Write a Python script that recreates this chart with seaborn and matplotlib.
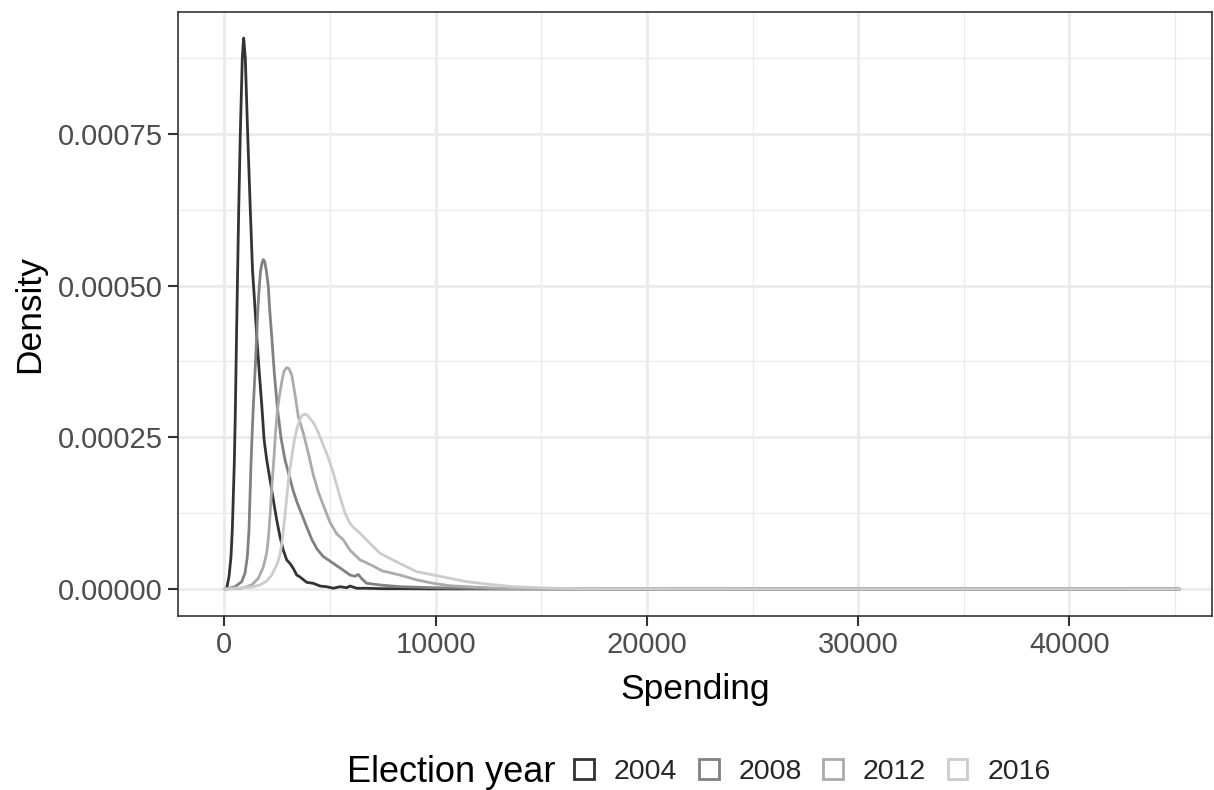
import matplotlib
matplotlib.use("Agg")
import matplotlib.pyplot as plt
from matplotlib.patches import Patch
import numpy as np
import pandas as pd
import seaborn as sns

# ---------------- data ----------------
years = ["2004", "2008", "2012", "2016"]
line_colors = ["#333333", "#818181", "#ababab", "#cccccc"]

spend_2004 = [30, 114, 222, 317, 379, 426, 473, 516, 587, 682, 757, 852, 895, 918,
              994, 1107, 1231, 1335, 1429, 1548, 1657, 1775, 1884, 2007, 2163, 2319,
              2480, 2637, 2792, 2953, 3110, 3266, 3427, 3583, 3900, 4212, 4529, 4847,
              5159, 5476, 5793, 5950, 6266, 6740, 7511, 8316, 9878, 20000, 45200]
dens_2004 = [0, 1.2e-6, 2.03e-5, 5.33e-5, 9.73e-5, 1.52e-4, 2.07e-4, 2.79e-4, 4.35e-4,
             6.25e-4, 7.5e-4, 8.75e-4, 8.98e-4, 9.08e-4,
             8.75e-4, 7.5e-4, 6.25e-4, 5.26e-4, 4.76e-4, 4.10e-4, 3.56e-4, 3.02e-4,
             2.46e-4, 2.13e-4, 1.80e-4, 1.47e-4, 1.14e-4, 8.6e-5, 6.4e-5, 4.8e-5, 4.2e-5,
             3.4e-5, 2.3e-5, 1.98e-5, 1.1e-5, 9.4e-6, 4.9e-6, 3.8e-6, 1.2e-6, 3.8e-6,
             2.1e-6, 4.9e-6, 1.2e-6, 1.2e-6, 5e-7, 5e-7, 2e-7, 1e-7, 0]

spend_2008 = [30, 114, 506, 824, 980, 1089, 1169, 1216, 1264, 1325, 1373, 1453, 1524,
              1586, 1657, 1713, 1784, 1846, 1917, 1997, 2083, 2139, 2239, 2367, 2508,
              2684, 2873, 3062, 3252, 3441, 3678, 3914, 4151, 4387, 4671, 5002, 5334,
              5632, 5950, 6187, 6342, 6518, 6740, 7370, 8316, 9892, 11473, 13054,
              20000, 45200]
dens_2008 = [0, 3e-7, 3.8e-6, 1.2e-5, 2.59e-5, 5.32e-5, 9.73e-5, 1.52e-4, 2.07e-4,
             2.62e-4, 3.01e-4, 3.56e-4, 4.10e-4, 4.60e-4, 4.99e-4, 5.23e-4, 5.37e-4,
             5.43e-4, 5.39e-4, 5.23e-4, 4.99e-4, 4.65e-4, 4.19e-4, 3.56e-4, 3.0e-4,
             2.49e-4, 2.13e-4, 1.88e-4, 1.63e-4, 1.43e-4, 1.22e-4, 1.01e-4, 8.1e-5,
             6.6e-5, 5.4e-5, 4.6e-5, 3.8e-5, 3.1e-5, 2.3e-5, 2.1e-5, 2.4e-5, 1.65e-5,
             9.4e-6, 6.6e-6, 3.8e-6, 2.1e-6, 1.2e-6, 5e-7, 1e-7, 0]

spend_2012 = [30, 270, 824, 1297, 1609, 1846, 2007, 2101, 2182, 2253, 2343, 2433, 2518,
              2603, 2717, 2826, 2953, 3062, 3190, 3346, 3502, 3739, 3976, 4212, 4449,
              4686, 5002, 5320, 5632, 5950, 6187, 6423, 6740, 7038, 7464, 8316, 9106,
              9892, 10682, 11473, 13054, 13839, 20000, 45200]
dens_2012 = [0, 5e-7, 1.2e-6, 6.6e-6, 1.76e-5, 3.63e-5, 5.93e-5, 8.9e-5, 1.30e-4,
             1.71e-4, 2.13e-4, 2.62e-4, 2.95e-4, 3.17e-4, 3.41e-4, 3.59e-4, 3.65e-4,
             3.63e-4, 3.53e-4, 3.21e-4, 2.84e-4, 2.57e-4, 2.24e-4, 1.88e-4, 1.60e-4,
             1.38e-4, 1.10e-4, 9.1e-5, 8.1e-5, 6.4e-5, 5.6e-5, 4.8e-5, 4.3e-5, 3.8e-5,
             3.0e-5, 2.3e-5, 1.5e-5, 9.4e-6, 5.4e-6, 3.8e-6, 1.2e-6, 4e-7, 2e-7, 0]

spend_2016 = [30, 426, 1216, 1690, 2007, 2243, 2480, 2636, 2745, 2849, 2944, 3039, 3133,
              3228, 3323, 3441, 3583, 3678, 3796, 3914, 4056, 4212, 4373, 4529, 4686,
              4847, 5003, 5159, 5320, 5476, 5713, 5950, 6186, 6423, 6896, 7370, 7686,
              8316, 9106, 9892, 10682, 11473, 12419, 13678, 15259, 16835, 18397, 25000,
              45200]
dens_2016 = [0, 1.2e-6, 2.8e-6, 6.6e-6, 1.32e-5, 2.31e-5, 3.96e-5, 5.6e-5, 8.1e-5,
             1.14e-4, 1.47e-4, 1.80e-4, 2.04e-4, 2.26e-4, 2.46e-4, 2.65e-4, 2.80e-4,
             2.86e-4, 2.88e-4, 2.87e-4, 2.81e-4, 2.74e-4, 2.64e-4, 2.51e-4, 2.37e-4,
             2.23e-4, 2.08e-4, 1.91e-4, 1.71e-4, 1.52e-4, 1.25e-4, 1.08e-4, 9.9e-5,
             9.2e-5, 7.5e-5, 5.9e-5, 5.3e-5, 4.2e-5, 2.85e-5, 2.31e-5, 1.76e-5, 1.2e-5,
             8.2e-6, 3.8e-6, 1.6e-6, 5e-7, 5e-7, 2e-7, 0]

x_ticks = [0, 10000, 20000, 30000, 40000]
x_tick_labels = ["0", "10000", "20000", "30000", "40000"]
y_ticks = [0.0, 0.00025, 0.0005, 0.00075]
y_tick_labels = ["0.00000", "0.00025", "0.00050", "0.00075"]

x_title = "Spending"
y_title = "Density"
legend_title = "Election year"

# ---------------- build a long table ----------------
frames = []
for yr, xs, ds in zip(years,
                      [spend_2004, spend_2008, spend_2012, spend_2016],
                      [dens_2004, dens_2008, dens_2012, dens_2016]):
    frames.append(pd.DataFrame({"Spending": xs, "Density": ds, "Election year": yr}))
df = pd.concat(frames, ignore_index=True)

# ---------------- draw ----------------
sns.set_theme(style="white")
plt.rcParams["font.family"] = ["Liberation Sans", "DejaVu Sans"]

W, H = 1214, 790
fig = plt.figure(figsize=(W / 100, H / 100), dpi=100)
left, right, top, bottom = 178, 1212, 12, 616
ax = fig.add_axes([left / W, 1 - bottom / H, (right - left) / W, (bottom - top) / H])

sns.lineplot(data=df, x="Spending", y="Density", hue="Election year",
             hue_order=years, palette=dict(zip(years, line_colors)),
             estimator=None, sort=False, linewidth=2.0, legend=False, ax=ax)
for ln in ax.get_lines():
    ln.set_solid_joinstyle("round")
    ln.set_solid_capstyle("round")

ax.set_xlim(-2191, 46744)
ax.set_ylim(-4.45e-5, 9.51e-4)

ax.set_xticks(x_ticks)
ax.set_xticklabels(x_tick_labels)
ax.set_xticks([5000, 15000, 25000, 35000, 45000], minor=True)
ax.set_yticks(y_ticks)
ax.set_yticklabels(y_tick_labels)
ax.set_yticks([0.000125, 0.000375, 0.000625, 0.000875], minor=True)

ax.grid(which="major", color="#ebebeb", linewidth=2.0)
ax.grid(which="minor", color="#ebebeb", linewidth=1.0)
ax.set_axisbelow(True)
for sp in ax.spines.values():
    sp.set_color("#333333")
    sp.set_linewidth(1.2)

ax.tick_params(axis="both", which="major", direction="out", length=7, width=1.5,
               color="#333333", labelcolor="#4d4d4d", labelsize=21, pad=4)
ax.tick_params(axis="both", which="minor", length=0)
ax.tick_params(bottom=True, left=True)

ax.set_xlabel(x_title, fontsize=25.5, color="black", labelpad=10)
ax.set_ylabel(y_title, fontsize=25.5, color="black", labelpad=8)

# legend at bottom, title on the left
ly = 1 - 772 / H
fig.text(347 / W, ly, legend_title, fontsize=26, color="black", va="center", ha="left")
handles = [Patch(facecolor="white", edgecolor=c, linewidth=2.0) for c in line_colors]
fig.legend(handles, years, loc="center left", bbox_to_anchor=(574 / W, ly),
           ncol=4, frameon=False, fontsize=20.5, handlelength=0.7, handleheight=0.7,
           handletextpad=0.7, columnspacing=0.75, borderpad=0, borderaxespad=0)

fig.savefig("out.png", dpi=100)
